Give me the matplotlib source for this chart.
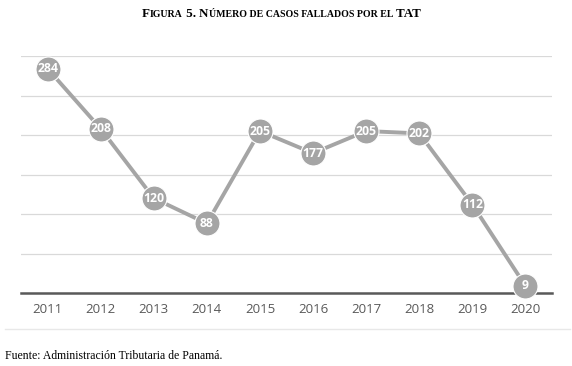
import matplotlib
matplotlib.use("Agg")
import matplotlib.pyplot as plt
from matplotlib.lines import Line2D

years = ["2011", "2012", "2013", "2014", "2015", "2016", "2017", "2018", "2019", "2020"]
casos = [284, 208, 120, 88, 205, 177, 205, 202, 112, 9]

title_parts = [("F", 9.4), ("IGURA", 7.1), (" 5. ", 9.4), ("N", 9.4),
               ("ÚMERO DE CASOS FALLADOS POR EL", 7.1), (" TAT", 9.4)]
fuente = "Fuente: Administración Tributaria de Panamá."

GRAY = "#A5A5A5"

fig = plt.figure(figsize=(5.72, 3.66), dpi=100)
ax = fig.add_axes([21 / 572, 73 / 366, 531 / 572, 237 / 366])

x = list(range(len(years)))
ax.plot(x, casos, color=GRAY, lw=2.8, marker="o", markersize=18,
        markerfacecolor=GRAY, markeredgecolor="white", markeredgewidth=0.8,
        solid_capstyle="round", zorder=3, clip_on=False)
for xi, v in zip(x, casos):
    ax.text(xi, v, str(v), ha="center", va="center", color="white",
            fontsize=8.8, fontweight="bold", family="Open Sans", zorder=4)

ax.set_xlim(-0.5, len(years) - 0.5)
ax.set_ylim(0, 300)
ax.set_yticks(range(0, 301, 50))
ax.yaxis.grid(True, color="#D9D9D9", lw=0.9)
ax.set_axisbelow(True)
ax.tick_params(axis="y", left=False, labelleft=False)
ax.set_xticks(x)
ax.set_xticklabels(years, fontsize=9.5, color="#595959", family="Open Sans")
ax.tick_params(axis="x", length=0, pad=7)
for s in ["top", "right", "left"]:
    ax.spines[s].set_visible(False)
ax.spines["bottom"].set_color("#595959")
ax.spines["bottom"].set_linewidth(1.8)

# faint rule under the chart
fig.lines.append(Line2D([5 / 572, 570 / 572], [1 - 329 / 366] * 2,
                        transform=fig.transFigure, color="#E8E8E8", lw=1))

# small-caps title built from pieces
renderer = fig.canvas.get_renderer()
texts = []
for t, size in title_parts:
    texts.append(fig.text(0, 1 - 17 / 366, t, fontsize=size, fontweight="bold",
                          family="Liberation Serif", va="baseline", ha="left"))
widths = [tx.get_window_extent(renderer).width for tx in texts]
xpos = 281.5 - sum(widths) / 2
for tx, w in zip(texts, widths):
    tx.set_x(xpos / 572)
    xpos += w

fig.text(5 / 572, 1 - 359 / 366, fuente, fontsize=8.5, family="Liberation Serif",
         va="baseline", ha="left")

fig.savefig("out.png", dpi=100)
